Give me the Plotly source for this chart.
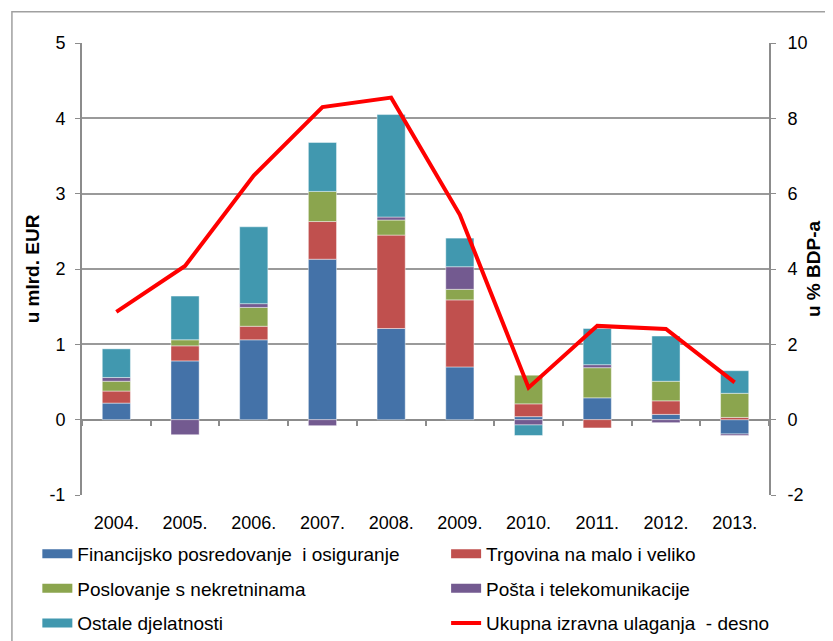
import plotly.graph_objects as go

# ---------------------------------------------------------------------------
# Data
# ---------------------------------------------------------------------------
years = ["2004.", "2005.", "2006.", "2007.", "2008.",
         "2009.", "2010.", "2011.", "2012.", "2013."]

financijsko = [0.22, 0.78, 1.06, 2.13, 1.21, 0.70, 0.04, 0.29, 0.07, -0.19]
trgovina = [0.16, 0.20, 0.18, 0.50, 1.24, 0.89, 0.17, -0.11, 0.18, 0.03]
nekretnine = [0.13, 0.08, 0.25, 0.40, 0.20, 0.14, 0.38, 0.40, 0.26, 0.32]
posta = [0.05, -0.20, 0.05, -0.08, 0.04, 0.30, -0.07, 0.04, -0.04, -0.02]
ostale = [0.38, 0.58, 1.02, 0.65, 1.36, 0.38, -0.14, 0.48, 0.60, 0.30]
ukupno_bdp = [2.86, 4.08, 6.48, 8.30, 8.55, 5.44, 0.85, 2.49, 2.41, 0.99]

left_ticks = [-1, 0, 1, 2, 3, 4, 5]
right_ticks = [-2, 0, 2, 4, 6, 8, 10]

# ---------------------------------------------------------------------------
# Style
# ---------------------------------------------------------------------------
_FONT = "Liberation Sans, Arial, sans-serif"
_GRID = "#9a9a9a"
_AXISLINE = "#8c8c8c"
_SEGMENT_LINE = dict(color="rgba(255,255,255,0.55)", width=0.8)

# (name, values, colour, legend column)
series = [
    ("Financijsko posredovanje  i osiguranje", financijsko, "#4472A8", "legend"),
    ("Trgovina na malo i veliko", trgovina, "#C0504E", "legend2"),
    ("Poslovanje s nekretninama", nekretnine, "#8BA54E", "legend"),
    ("Pošta i telekomunikacije", posta, "#735A90", "legend2"),
    ("Ostale djelatnosti", ostale, "#4198AF", "legend"),
]

fig = go.Figure()

for name, values, color, leg in series:
    fig.add_trace(go.Bar(
        x=years, y=values, name=name, showlegend=False,
        marker=dict(color=color, line=_SEGMENT_LINE),
        width=0.41,
    ))
    # legend-only entry so the key is a wide flat swatch like in Excel
    fig.add_trace(go.Scatter(
        x=[None], y=[None], name=name, legend=leg, legendgroup=name,
        mode="lines", line=dict(color=color, width=9),
    ))

fig.add_trace(go.Scatter(
    x=years, y=ukupno_bdp, name="Ukupna izravna ulaganja  - desno",
    legend="legend2", legendgroup="ukupno",
    mode="lines", line=dict(color="#FF0000", width=4),
    xaxis="x2", yaxis="y2",
))

_legend_common = dict(
    orientation="v", yanchor="top", xanchor="left",
    font=dict(family=_FONT, size=19, color="black"),
    traceorder="grouped", tracegroupgap=7, itemwidth=30,
    bgcolor="rgba(0,0,0,0)",
)

# page body adds 8px around the figure, so the figure is 8px smaller
fig.update_layout(
    width=825, height=633,
    barmode="relative",
    paper_bgcolor="white",
    plot_bgcolor="white",
    margin=dict(l=74, r=64, t=35, b=146, autoexpand=False),
    font=dict(family=_FONT, size=18, color="black"),
    showlegend=True,
    legend=dict(x=-0.065, y=-0.088, **_legend_common),
    legend2=dict(x=0.530, y=-0.088, **_legend_common),
    xaxis=dict(
        type="category", range=[-0.5, 9.5],
        showgrid=False, showline=False, ticks="",
        tickfont=dict(size=18), ticklabelstandoff=15,
    ),
    xaxis2=dict(
        type="category", range=[-0.5, 9.5],
        overlaying="x", anchor="free", position=1 / 6,
        showgrid=False, showticklabels=False, showline=False,
        ticks="outside", tickson="boundaries", ticklen=5,
        tickcolor=_AXISLINE, tickwidth=1.5,
    ),
    yaxis=dict(
        range=[-1, 5], tickvals=left_ticks,
        ticktext=[str(v) for v in left_ticks],
        showgrid=True, gridcolor=_GRID, gridwidth=1.5,
        zeroline=True, zerolinecolor=_AXISLINE, zerolinewidth=2,
        showline=True, linecolor=_AXISLINE, linewidth=2,
        ticks="outside", ticklen=5, tickcolor=_AXISLINE,
        ticklabelstandoff=6,
        title=dict(text="<b>u mlrd. EUR</b>", font=dict(size=19), standoff=5),
    ),
    yaxis2=dict(
        range=[-2, 10], tickvals=right_ticks,
        ticktext=[str(v) for v in right_ticks],
        overlaying="y", side="right", anchor="x",
        showgrid=False, zeroline=False,
        showline=True, linecolor=_AXISLINE, linewidth=2,
        ticks="outside", ticklen=5, tickcolor=_AXISLINE,
        ticklabelstandoff=8,
        title=dict(text="<b>u % BDP-a</b>", font=dict(size=19), standoff=0),
    ),
)

# thin outer frame around the whole chart (runs off the right and bottom edge)
fig.add_shape(
    type="rect", xref="paper", yref="paper",
    x0=-0.102, x1=1.3, y0=-0.6, y1=1.069,
    line=dict(color="#a0a0a0", width=1.5), layer="below",
)

fig.write_html("out.html")
